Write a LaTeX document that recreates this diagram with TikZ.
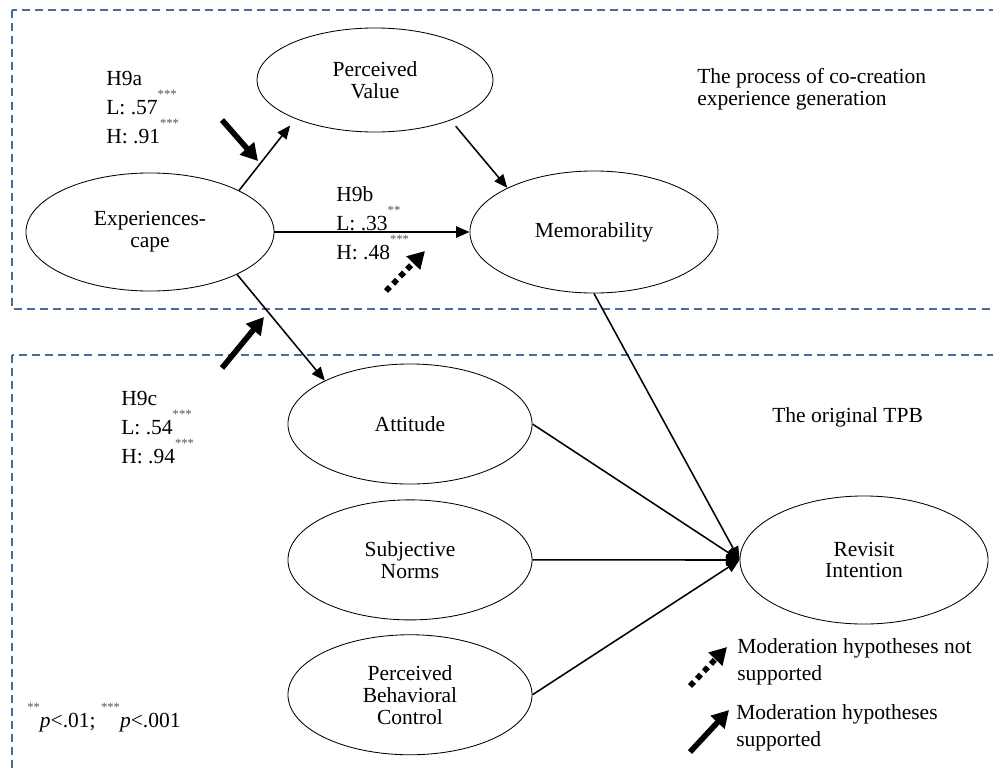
\documentclass[tikz,border=0pt]{standalone}
\usepackage{fontspec}
\setmainfont{Liberation Serif}
\usepackage{tikz}
\usetikzlibrary {arrows.meta,
                 positioning,
                 shapes.geometric}
\definecolor{boxblue}{HTML}{4A6A9B}
\definecolor{stargray}{HTML}{555555}
\newcommand{\sig}[1]{\smash{\raisebox{10.8pt}{\color{stargray}\fontsize{9}{9}\selectfont #1}}}
\tikzset{
        base/.style={font=\fontsize{15.3}{15.6}\selectfont},
        construct/.style={base, draw, ellipse, align=center, inner sep=0pt,
                          line width=0.6pt, minimum width=6.1cm, minimum height=3cm},
        note/.style={base, inner sep=0pt, align=left, anchor=base west},
        hypnote/.style={note, font=\fontsize{15.3}{20.6}\selectfont},
        legnote/.style={note, font=\fontsize{15.3}{18.5}\selectfont},
        myarrow/.style={-{Triangle[length=9.5pt, width=8pt]}, line width=1.1pt},
        modarrow/.style={-{Triangle[length=12pt, width=13pt]}, line width=4pt},
        modnot/.style={modarrow, dash pattern=on 4pt off 3.2pt},
        groupbox/.style={draw=boxblue, line width=1.3pt, dash pattern=on 5.7pt off 3.6pt},
 }
\begin{document}
\begin{tikzpicture}[x=0.025cm, y=-0.025cm]
    \useasboundingbox (0,0) rectangle (993,770);
    \clip (0,0) rectangle (993,770);

    \draw[groupbox] (12,10) rectangle (1010,309);
    \draw[groupbox] (12,355) rectangle (1010,790);

    \node[construct, minimum width=6.2cm, minimum height=2.95cm] (exp) at (150,232) {Experiences-\\cape};
    \node[construct, minimum width=5.9cm, minimum height=2.6cm] (pv) at (375,80) {Perceived\\Value};
    \node[construct, minimum width=6.2cm, minimum height=3.05cm, right=4.875cm of exp] (mem) {Memorability};
    \node[construct] (att) at (410,424) {Attitude};
    \node[construct, below=0.375cm of att] (sn) {Subjective\\Norms};
    \node[construct, below=0.35cm of sn] (pbc) {Perceived\\Behavioral\\Control};
    \node[construct, minimum width=6.2cm, minimum height=3.2cm] (ri) at (864,560) {Revisit\\Intention};

    \draw[myarrow, shorten >=6pt] (exp.25) -- (pv.206);
    \draw[myarrow] (exp.east) -- (mem.west);
    \draw[myarrow, shorten <=5.5pt] (pv.332) -- (mem.153);
    \draw[myarrow] (exp.334) -- (att.153);
    \draw[myarrow] (mem.south) -- (ri.west);
    \draw[myarrow] (att.east) -- (ri.west);
    \draw[myarrow] (sn.east) -- (ri.west);
    \draw[myarrow] (pbc.east) -- (ri.west);

    % base west = baseline of the last line
    \node[hypnote] (h9a) at (106,143) {H9a\\L: .57\sig{***}\\H: .91\sig{***}};
    \node[hypnote] (h9b) at (336,259) {H9b\\L: .33\sig{**}\\H: .48\sig{***}};
    \node[hypnote] (h9c) at (121,463) {H9c\\L: .54\sig{***}\\H: .94\sig{***}};

    \coordinate (h9a_tail) at (222,120);
    \coordinate (h9a_tip) at (258,161);
    \coordinate (h9b_tail) at (386,291);
    \coordinate (h9b_tip) at (425,251);
    \coordinate (h9c_tail) at (222,368);
    \coordinate (h9c_tip) at (264,317);
    \draw[modarrow] (h9a_tail) -- (h9a_tip);
    \draw[modnot] (h9b_tail) -- (h9b_tip);
    \draw[modarrow] (h9c_tail) -- (h9c_tip);

    \node[note] (process) at (697,105) {The process of co-creation\\experience generation};
    \node[note] (tpb) at (772,422) {The original TPB};

    \coordinate (lnot_tail) at (690,686);
    \coordinate (lnot_tip) at (727,647);
    \coordinate (lsup_tail) at (690,752);
    \coordinate (lsup_tip) at (729,710);
    \draw[modnot] (lnot_tail) -- (lnot_tip);
    \draw[modarrow] (lsup_tail) -- (lsup_tip);
    \node[legnote] (lnot) at (737,680) {Moderation hypotheses not\\supported};
    \node[legnote] (lsup) at (736,746) {Moderation hypotheses\\supported};

    \node[note] (pnote) at (27,727) {\sig{**}\textit{p}<.01; \sig{***}\textit{p}<.001};
\end{tikzpicture}
\end{document}
